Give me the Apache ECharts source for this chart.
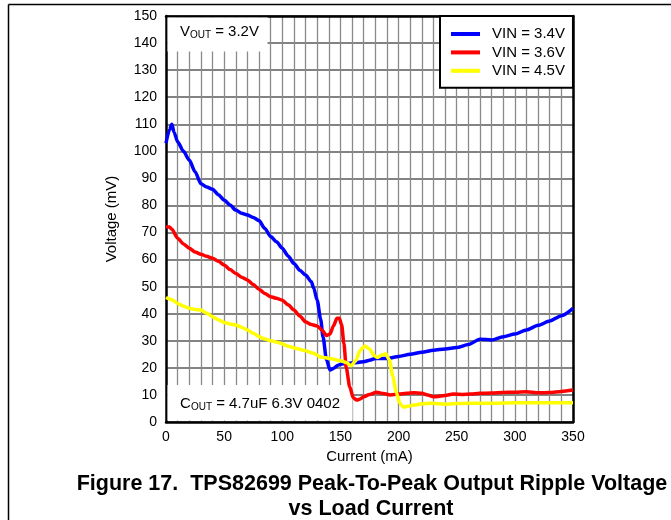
<!DOCTYPE html>
<html>
<head>
<meta charset="utf-8">
<script src="https://cdn.jsdelivr.net/npm/echarts@6/dist/echarts.min.js"></script>
<style>
html,body{margin:0;padding:0;background:#fff;}
#c{width:671px;height:520px;}
</style>
</head>
<body>
<div id="c"></div>
<script>
var seriesNames = ['VIN = 3.4V', 'VIN = 3.6V', 'VIN = 4.5V'];
var xTicks = [0, 50, 100, 150, 200, 250, 300, 350];

var blueX = [0, 3, 5, 7, 10, 15, 20, 25, 30, 35, 40, 45, 50, 55, 60, 65, 70, 75, 80, 85, 90, 95, 100, 105, 110, 115, 120, 125, 127, 130, 133, 135, 138, 141, 144, 148, 152, 158, 165, 170, 175, 180, 190, 200, 210, 220, 230, 240, 250, 260, 270, 280, 290, 300, 310, 320, 330, 340, 350];
var blueY = [103, 108, 110, 107, 103.5, 100, 96.8, 92.5, 88, 86.8, 86, 84, 82, 80.2, 78.3, 77.1, 76.5, 75.6, 74.4, 71.5, 68.5, 66.6, 64.2, 61.3, 58.6, 56.1, 54.3, 51.8, 49.5, 45, 38, 31.5, 23, 19.2, 19.8, 21, 21.5, 21.7, 22, 22.3, 22.8, 23.5, 23.5, 24.2, 25, 25.8, 26.5, 27, 27.5, 28.6, 30.6, 30.3, 31.5, 32.5, 34, 35.7, 37.3, 39.3, 42];

var redX = [0, 3, 5, 10, 15, 20, 25, 30, 35, 40, 45, 50, 55, 60, 65, 70, 75, 80, 85, 90, 95, 100, 105, 110, 115, 120, 125, 130, 134, 138, 141, 144, 147, 149, 151, 153, 155, 158, 161, 164, 167, 170, 175, 181, 187, 193, 200, 207, 213, 220, 225, 230, 240, 247, 255, 262, 270, 280, 290, 300, 310, 320, 330, 340, 350];
var redY = [72.2, 72, 71.2, 67.9, 65.8, 64.2, 62.8, 62, 61.2, 60.5, 59.4, 58, 56.3, 54.9, 53.5, 52.5, 50.8, 49, 47.5, 46.3, 45.7, 45, 43.3, 41.4, 39.2, 37, 36, 35.5, 34, 32, 32.5, 35.5, 38.3, 38.3, 36, 29, 20, 13, 9, 8.1, 8.5, 9.3, 10.2, 11, 10.5, 10, 10.3, 10.6, 10.8, 10.6, 10, 9.3, 9.8, 10.3, 10.2, 10.3, 10.6, 10.7, 10.9, 11, 11.2, 10.8, 10.9, 11.3, 11.8];

var yellowX = [0, 5, 10, 15, 20, 25, 30, 35, 40, 45, 50, 55, 60, 65, 70, 75, 80, 85, 90, 98, 105, 112, 120, 127, 133, 141, 150, 155, 159, 163, 167, 171, 175, 179, 182, 186, 189, 192, 195, 198, 201, 204, 208, 213, 220, 228, 235, 242, 250, 260, 270, 280, 290, 300, 310, 320, 330, 340, 350];
var yellowY = [46, 45.2, 43.8, 42.8, 42, 41.6, 41.4, 40.2, 38.9, 37.8, 36.8, 36.2, 35.8, 35, 34, 32.8, 31.5, 30.7, 30, 29.2, 28, 27.2, 26.3, 25.4, 24, 23.5, 22.6, 22, 20.8, 22.5, 26.5, 28.1, 27, 24.5, 23.8, 24.8, 25.2, 23, 17, 11, 7, 5.5, 5.8, 6.3, 6.7, 6.9, 6.7, 6.6, 6.8, 6.9, 6.9, 6.9, 7, 7.1, 7.1, 7.1, 7.1, 7.1, 7.1];

function pairs(xs, ys) { return xs.map(function (x, i) { return [x, ys[i]]; }); }

var FONT = '"Liberation Sans", Arial, Helvetica, sans-serif';
var chart = echarts.init(document.getElementById('c'), null, { renderer: 'canvas' });

function mkSeries(name, xs, ys, color) {
  return {
    name: name, type: 'line', data: pairs(xs, ys),
    showSymbol: false, symbol: 'none', smooth: 0.25, smoothMonotone: 'x',
    lineStyle: { color: color, width: 3.5 }, itemStyle: { color: color },
    z: 5, animation: false
  };
}

chart.setOption({
  animation: false,
  backgroundColor: '#fff',
  grid: { left: 166, top: 16, right: 98, bottom: 98, containLabel: false },
  xAxis: [{
    type: 'value', min: 0, max: 350, interval: 10, position: 'bottom',
    name: 'Current (mA)', nameLocation: 'middle', nameGap: 25,
    nameTextStyle: { fontFamily: FONT, fontSize: 15, color: '#000' },
    axisLine: { show: true, onZero: false, lineStyle: { color: '#000', width: 2.5 } },
    axisTick: { show: false },
    axisLabel: { fontFamily: FONT, fontSize: 14, color: '#000', margin: 8,
      formatter: function (v) { return xTicks.indexOf(v) >= 0 ? String(v) : ''; } },
    splitLine: { show: true, lineStyle: { color: '#8a8a8a', width: 1.3 } }
  }, {
    type: 'value', min: 0, max: 350, position: 'top',
    axisLine: { show: true, onZero: false, lineStyle: { color: '#000', width: 2.5 } },
    axisTick: { show: false }, axisLabel: { show: false }, splitLine: { show: false }
  }],
  yAxis: [{
    type: 'value', min: 0, max: 150, interval: 10, position: 'left',
    name: 'Voltage (mV)', nameLocation: 'middle', nameGap: 47, nameRotate: 90,
    nameTextStyle: { fontFamily: FONT, fontSize: 15, color: '#000' },
    axisLine: { show: true, onZero: false, lineStyle: { color: '#000', width: 2.5 } },
    axisTick: { show: false },
    axisLabel: { fontFamily: FONT, fontSize: 14, color: '#000', margin: 9 },
    splitLine: { show: true, lineStyle: { color: '#5a5a5a', width: 1.5 } }
  }, {
    type: 'value', min: 0, max: 150, position: 'right',
    axisLine: { show: true, onZero: false, lineStyle: { color: '#000', width: 2.5 } },
    axisTick: { show: false }, axisLabel: { show: false }, splitLine: { show: false }
  }],
  legend: {
    data: seriesNames,
    orient: 'vertical', left: 440, top: 16,
    padding: [9, 8, 8, 11],
    backgroundColor: '#fff', borderColor: '#000', borderWidth: 2,
    icon: 'rect', itemWidth: 29, itemHeight: 4, itemGap: 0.4,
    textStyle: { fontFamily: FONT, fontSize: 15, color: '#000', lineHeight: 18, padding: [0, 0, 0, 7] },
    z: 6
  },
  series: [
    mkSeries(seriesNames[0], blueX, blueY, '#0000ff'),
    mkSeries(seriesNames[1], redX, redY, '#ff0000'),
    mkSeries(seriesNames[2], yellowX, yellowY, '#ffff00')
  ],
  graphic: [
    { type: 'rect', z: 1, shape: { x: 167.5, y: 17.5, width: 100, height: 34 }, style: { fill: '#fff' } },
    { type: 'rect', z: 1, shape: { x: 167.5, y: 385, width: 185, height: 35.5 }, style: { fill: '#fff' } },
    { type: 'text', z: 3, x: 180, y: 32, style: { text: 'V', font: '15px ' + FONT, fill: '#000', verticalAlign: 'middle' } },
    { type: 'text', z: 3, x: 190, y: 35.5, style: { text: 'OUT', font: '10px ' + FONT, fill: '#000', verticalAlign: 'middle' } },
    { type: 'text', z: 3, x: 211, y: 32, style: { text: ' = 3.2V', font: '15px ' + FONT, fill: '#000', verticalAlign: 'middle' } },
    { type: 'text', z: 3, x: 180, y: 403.5, style: { text: 'C', font: '15px ' + FONT, fill: '#000', verticalAlign: 'middle' } },
    { type: 'text', z: 3, x: 191, y: 407, style: { text: 'OUT', font: '10px ' + FONT, fill: '#000', verticalAlign: 'middle' } },
    { type: 'text', z: 3, x: 212, y: 403.5, style: { text: ' = 4.7uF 6.3V 0402', font: '15px ' + FONT, fill: '#000', verticalAlign: 'middle' } },
    { type: 'text', z: 3, x: 372, y: 484, style: { text: 'Figure 17.  TPS82699 Peak-To-Peak Output Ripple Voltage', font: 'bold 21.5px ' + FONT, fill: '#000', align: 'center', verticalAlign: 'middle' } },
    { type: 'text', z: 3, x: 371, y: 509, style: { text: 'vs Load Current', font: 'bold 21.5px ' + FONT, fill: '#000', align: 'center', verticalAlign: 'middle' } },
    { type: 'line', z: 3, shape: { x1: 8.5, y1: 4.5, x2: 8.5, y2: 520 }, style: { stroke: '#000', lineWidth: 1.5 } },
    { type: 'line', z: 3, shape: { x1: 8.5, y1: 4.5, x2: 671, y2: 4.5 }, style: { stroke: '#000', lineWidth: 1.5 } }
  ]
});
</script>
</body>
</html>
